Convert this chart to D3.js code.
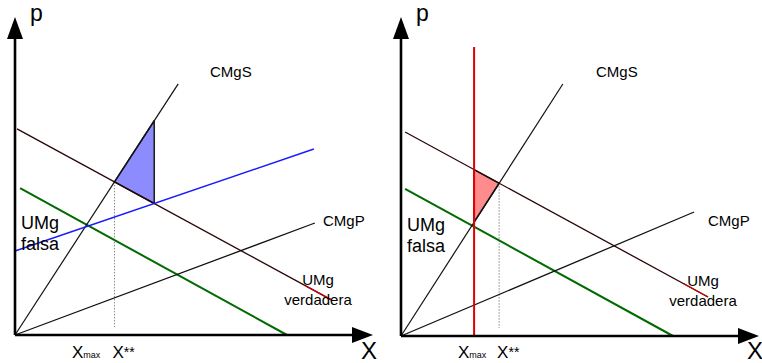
<!DOCTYPE html>
<html>
<head>
<meta charset="utf-8">
<script src="https://cdn.jsdelivr.net/npm/d3@7/dist/d3.min.js"></script>
<style>
  html, body { margin: 0; padding: 0; background: #fff; }
  svg { display: block; font-family: "Liberation Sans", Arial, Helvetica, sans-serif; }
</style>
</head>
<body>
<svg id="chart" width="762" height="363"></svg>
<script>
// Curves of each panel, as [x, p] endpoints on a 0-100 scale.
const cmgsLeft        = [[0, 0], [48, 78.5]];
const cmgpLeft        = [[0, 0], [88.2, 35]];
const umgVerdaderaLeft = [[0.6, 64.4], [93.2, 10.9]];
const umgFalsaLeft    = [[1.5, 45.9], [80, 0]];
const umgCorregidaLeft = [[0, 26.25], [87.9, 58.1]];

const cmgsRight        = [[0, 0], [47.6, 78.75]];
const cmgpRight        = [[0, 0], [86.2, 38.75]];
const umgVerdaderaRight = [[1.2, 63.75], [90.3, 12.2]];
const umgFalsaRight    = [[1.2, 46.0], [80, 0]];
const limiteRight      = [[21.5, 0], [21.5, 90.3]];

// Text shown on the charts
const axisLabels  = ["p", "X"];
const curveNames  = ["CMgS", "CMgP"];
const umgTrue     = ["UMg", "verdadera"];
const umgFalse    = ["UMg", "falsa"];
const quantityMax = ["X", "max"];
const quantityOpt = ["X", "**"];

const svg = d3.select("#chart");

// Intersection of two segments' supporting lines
function intersect(a, b) {
  const [[x1, y1], [x2, y2]] = a, [[x3, y3], [x4, y4]] = b;
  const d = (x1 - x2) * (y3 - y4) - (y1 - y2) * (x3 - x4);
  const t = ((x1 - x3) * (y3 - y4) - (y1 - y3) * (x3 - x4)) / d;
  return [x1 + t * (x2 - x1), y1 + t * (y2 - y1)];
}
function atX(seg, xv) {
  return intersect(seg, [[xv, -1000], [xv, 1000]]);
}

function drawPanel(cfg) {
  const { ox, oy } = cfg;
  const x = d3.scaleLinear().domain([0, 100]).range([ox, ox + 340]);
  const y = d3.scaleLinear().domain([0, 100]).range([oy, oy - 320]);
  const g = svg.append("g");
  const line = d3.line().x(d => x(d[0])).y(d => y(d[1]));

  // shaded welfare-loss triangle
  g.append("path")
    .attr("d", line(cfg.triangle) + "Z")
    .attr("fill", cfg.fill)
    .attr("stroke", "#222")
    .attr("stroke-width", 1.6)
    .attr("stroke-linejoin", "round");

  // dotted guide down to X**
  const opt = cfg.optimum;
  g.append("line")
    .attr("x1", x(opt[0])).attr("x2", x(opt[0]))
    .attr("y1", y(opt[1])).attr("y2", oy - 8)
    .attr("stroke", "#888").attr("stroke-width", 1)
    .attr("stroke-dasharray", "1.5,1.5");

  // curves
  cfg.curves.forEach(c => {
    g.append("path")
      .attr("d", line(c.data))
      .attr("fill", "none")
      .attr("stroke", c.color)
      .attr("stroke-width", c.width);
    if (c.tipColor) {
      const [a, b] = c.data;
      const s = [[a[0] + (b[0] - a[0]) * 0.92, a[1] + (b[1] - a[1]) * 0.92], b];
      g.append("path")
        .attr("d", line(s))
        .attr("fill", "none")
        .attr("stroke", c.tipColor)
        .attr("stroke-width", c.width);
    }
  });

  // axes with arrowheads
  g.append("line")
    .attr("x1", ox).attr("y1", oy).attr("x2", ox).attr("y2", 36)
    .attr("stroke", "#000").attr("stroke-width", 2.6);
  g.append("line")
    .attr("x1", ox).attr("y1", oy).attr("x2", ox + 340).attr("y2", oy)
    .attr("stroke", "#000").attr("stroke-width", 2.6);
  g.append("path")
    .attr("d", `M${ox},17 L${ox - 8},39 L${ox + 8},39 Z`)
    .attr("fill", "#000");
  g.append("path")
    .attr("d", `M${ox + 358},${oy} L${ox + 337},${oy - 8} L${ox + 337},${oy + 8} Z`)
    .attr("fill", "#000");

  // axis names
  g.append("text").attr("x", ox + 15).attr("y", 21)
    .attr("font-size", 23).text(axisLabels[0]);
  g.append("text").attr("x", ox + 346).attr("y", 359)
    .attr("font-size", 24).text(axisLabels[1]);

  // curve names
  g.append("text").attr("x", cfg.cmgsLabel[0]).attr("y", cfg.cmgsLabel[1])
    .attr("font-size", 15).text(curveNames[0]);
  g.append("text").attr("x", cfg.cmgpLabel[0]).attr("y", cfg.cmgpLabel[1])
    .attr("font-size", 15).text(curveNames[1]);

  const tv = g.append("text").attr("font-size", 15).attr("text-anchor", "middle");
  tv.append("tspan").attr("x", cfg.trueLabel[0]).attr("y", cfg.trueLabel[1]).text(umgTrue[0]);
  tv.append("tspan").attr("x", cfg.trueLabel[0]).attr("y", cfg.trueLabel[1] + 20).text(umgTrue[1]);

  const tf = g.append("text").attr("font-size", 18);
  tf.append("tspan").attr("x", ox + 6).attr("y", cfg.falseY).text(umgFalse[0]);
  tf.append("tspan").attr("x", ox + 6).attr("y", cfg.falseY + 21).text(umgFalse[1]);

  // quantity labels under the axis
  const qm = g.append("text").attr("x", cfg.xmaxAt).attr("y", 358).attr("font-size", 17);
  qm.append("tspan").text(quantityMax[0]);
  qm.append("tspan").attr("font-size", 9).text(quantityMax[1]);
  const qo = g.append("text").attr("x", x(opt[0]) - 2).attr("y", 358).attr("font-size", 17);
  qo.append("tspan").text(quantityOpt[0]);
  qo.append("tspan").attr("font-size", 14).attr("dy", -1).text(quantityOpt[1]);
}

// Left panel: triangle between CMgS, UMg verdadera and the vertical at the blue crossing
const lOpt = intersect(cmgsLeft, umgVerdaderaLeft);
const lCross = intersect(umgVerdaderaLeft, umgCorregidaLeft);
const lTop = atX(cmgsLeft, lCross[0]);
drawPanel({
  ox: 15, oy: 335,
  fill: "#8c8cff",
  triangle: [lOpt, lTop, lCross],
  optimum: lOpt,
  curves: [
    { data: umgFalsaLeft, color: "#006a00", width: 2 },
    { data: cmgsLeft, color: "#111", width: 1.2 },
    { data: cmgpLeft, color: "#111", width: 1.3 },
    { data: umgVerdaderaLeft, color: "#2a0505", width: 1.3, tipColor: "#d00000" },
    { data: umgCorregidaLeft, color: "#1a1aff", width: 1.5 }
  ],
  cmgsLabel: [210, 77],
  cmgpLabel: [323, 226],
  trueLabel: [318, 285],
  falseY: 229,
  xmaxAt: 72
});

// Right panel: triangle between the quantity limit, UMg verdadera and CMgS
const rOpt = intersect(cmgsRight, umgVerdaderaRight);
const rTop = intersect(limiteRight, umgVerdaderaRight);
const rLow = intersect(limiteRight, cmgsRight);
drawPanel({
  ox: 401, oy: 336,
  fill: "#ff8c8c",
  triangle: [rTop, rOpt, rLow],
  optimum: rOpt,
  curves: [
    { data: umgFalsaRight, color: "#006a00", width: 2 },
    { data: cmgsRight, color: "#111", width: 1.2 },
    { data: cmgpRight, color: "#111", width: 1.3 },
    { data: umgVerdaderaRight, color: "#2a0505", width: 1.3, tipColor: "#d00000" },
    { data: limiteRight, color: "#e00000", width: 2 }
  ],
  cmgsLabel: [596, 77],
  cmgpLabel: [708, 226],
  trueLabel: [703, 286],
  falseY: 231,
  xmaxAt: 458
});
</script>
</body>
</html>
